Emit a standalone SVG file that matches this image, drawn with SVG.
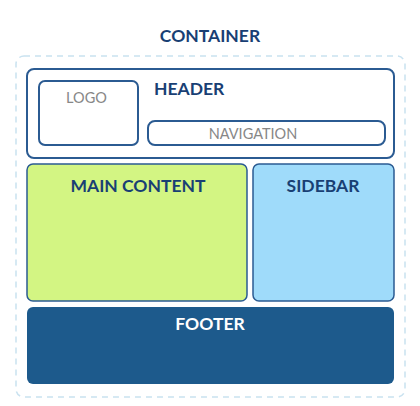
<svg xmlns="http://www.w3.org/2000/svg" width="420" height="406" viewBox="0 0 420 406">
  <style>
    .title { font-family: Lato, "Open Sans", sans-serif; font-weight: 700; font-size: 17.5px; fill: #193f74; }
    .label { font-family: Lato, "Open Sans", sans-serif; font-size: 14.5px; fill: #878787; }
    .box { fill: #ffffff; stroke: #2b5b92; stroke-width: 2; }
  </style>
  <rect width="420" height="406" fill="#ffffff"/>
  <g id="container">
    <rect x="16" y="56" width="389" height="341" rx="8" fill="none" stroke="#c9e2f0" stroke-width="1.5" stroke-dasharray="6 5"/>
    <text class="title" x="210" y="42" text-anchor="middle">CONTAINER</text>
  </g>
  <g id="header">
    <rect class="box" x="27" y="69" width="367" height="89" rx="7"/>
    <text class="title" x="154" y="95">HEADER</text>
  </g>
  <g id="logo">
    <rect class="box" x="39" y="81" width="99" height="64" rx="6"/>
    <text class="label" x="86.5" y="103" text-anchor="middle">LOGO</text>
  </g>
  <g id="navigation">
    <rect class="box" x="148" y="121" width="237" height="24" rx="7"/>
    <text class="label" x="253" y="138.5" text-anchor="middle">NAVIGATION</text>
  </g>
  <g id="main-content">
    <rect x="27" y="164" width="220" height="137" rx="6" fill="#d3f583" stroke="#2b5b92" stroke-width="1.5"/>
    <text class="title" x="138" y="192" text-anchor="middle">MAIN CONTENT</text>
  </g>
  <g id="sidebar">
    <rect x="253" y="164" width="141" height="137" rx="6" fill="#9fdbfa" stroke="#2b5b92" stroke-width="1.5"/>
    <text class="title" x="323" y="192" text-anchor="middle">SIDEBAR</text>
  </g>
  <g id="footer">
    <rect x="27" y="307" width="367" height="77" rx="6" fill="#1d5a8c"/>
    <text class="title" x="210" y="330" text-anchor="middle" style="fill:#ffffff">FOOTER</text>
  </g>
  <g id="connectors"/>
</svg>
